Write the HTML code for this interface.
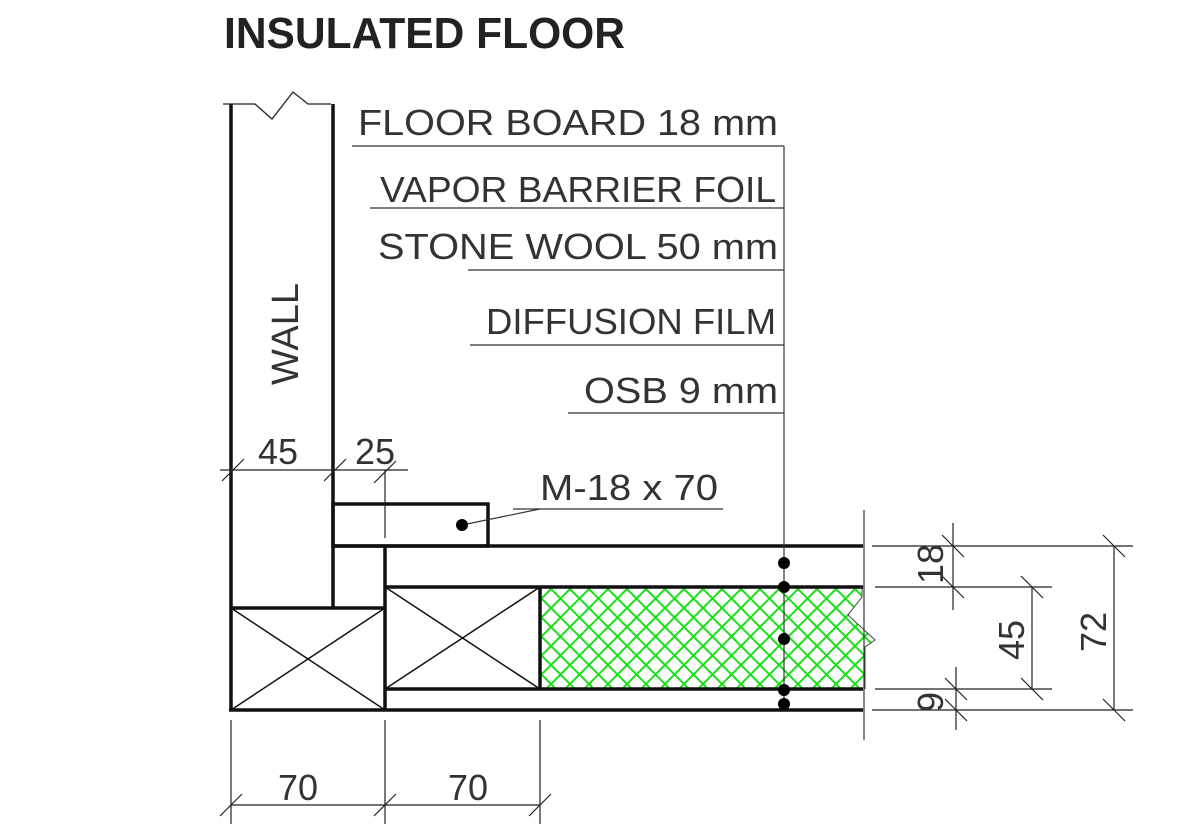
<!DOCTYPE html>
<html><head><style>html,body{margin:0;padding:0;background:#fff;}svg{display:block}</style></head>
<body>
<svg width="1204" height="824" viewBox="0 0 1204 824" xmlns="http://www.w3.org/2000/svg" font-family="Liberation Sans, sans-serif">
<defs>
<pattern id="h" width="19" height="19" patternUnits="userSpaceOnUse">
<path d="M0 0L19 19M19 0L0 19M-2 17L2 21M17 -2L21 2M-2 2L2 -2M17 21L21 17" stroke="#18e018" stroke-width="2"/>
</pattern>
</defs>
<text x="224" y="48" font-size="44" font-weight="bold" fill="#222" textLength="401" lengthAdjust="spacingAndGlyphs">INSULATED FLOOR</text>

<path d="M540 587H862V597L848 615L875 640L865 647V689H540Z" fill="url(#h)"/>
<path d="M862 587V597L848 615L875 640L865 647V689" fill="none" stroke="#444" stroke-width="1"/>

<g stroke="#111" stroke-width="3.5" fill="none">
<line x1="231" y1="104" x2="231" y2="711"/>
<line x1="333" y1="104" x2="333" y2="608"/>
<line x1="231" y1="608" x2="385" y2="608"/>
<line x1="229" y1="710" x2="863" y2="710"/>
<line x1="385" y1="546" x2="385" y2="710"/>
<rect x="333" y="504" width="155" height="42"/>
<line x1="333" y1="546" x2="863" y2="546"/>
<line x1="385" y1="587" x2="863" y2="587"/>
<line x1="385" y1="689" x2="863" y2="689"/>
<line x1="540" y1="587" x2="540" y2="689"/>
</g>
<g stroke="#111" stroke-width="1.5">
<line x1="231" y1="608" x2="385" y2="710"/><line x1="385" y1="608" x2="231" y2="710"/>
<line x1="385" y1="587" x2="540" y2="689"/><line x1="540" y1="587" x2="385" y2="689"/>
</g>
<path d="M223 104H255L272 119L293 92L308 104H331" fill="none" stroke="#222" stroke-width="1.3"/>
<text transform="translate(298,385) rotate(-90)" font-size="38" fill="#333" textLength="102" lengthAdjust="spacingAndGlyphs">WALL</text>

<g font-size="36" fill="#333" text-anchor="end">
<text x="778" y="135" textLength="420" lengthAdjust="spacingAndGlyphs">FLOOR BOARD 18 mm</text>
<text x="776" y="202" textLength="396" lengthAdjust="spacingAndGlyphs">VAPOR BARRIER FOIL</text>
<text x="778" y="259" textLength="400" lengthAdjust="spacingAndGlyphs">STONE WOOL 50 mm</text>
<text x="776" y="334" textLength="290" lengthAdjust="spacingAndGlyphs">DIFFUSION FILM</text>
<text x="778" y="403" textLength="194" lengthAdjust="spacingAndGlyphs">OSB 9 mm</text>
</g>
<g stroke="#333" stroke-width="1.2">
<line x1="352" y1="146" x2="784" y2="146"/>
<line x1="370" y1="208" x2="784" y2="208"/>
<line x1="468" y1="270" x2="784" y2="270"/>
<line x1="470" y1="345" x2="784" y2="345"/>
<line x1="568" y1="413" x2="784" y2="413"/>
<line x1="784" y1="146" x2="784" y2="712"/>
<line x1="864" y1="510" x2="864" y2="740"/>
<line x1="513" y1="509" x2="723" y2="509"/>
<line x1="462" y1="525" x2="540" y2="509"/>
</g>
<g fill="#000">
<circle cx="462" cy="525" r="6"/>
<circle cx="784" cy="563" r="6"/><circle cx="784" cy="587" r="6"/><circle cx="784" cy="639" r="6"/>
<circle cx="784" cy="690" r="6"/><circle cx="784" cy="704" r="6"/>
</g>
<text x="540" y="500" font-size="36" fill="#333" textLength="178" lengthAdjust="spacingAndGlyphs">M-18 x 70</text>

<g stroke="#222" stroke-width="1.2">
<line x1="220" y1="470" x2="408" y2="470"/>
<line x1="385" y1="470" x2="385" y2="538"/>
<line x1="222" y1="481" x2="244" y2="459"/>
<line x1="324" y1="481" x2="346" y2="459"/>
<line x1="374" y1="483" x2="396" y2="461"/>
</g>
<text x="258" y="464" font-size="36" fill="#333">45</text>
<text x="355" y="464" font-size="36" fill="#333">25</text>

<g stroke="#222" stroke-width="1.2">
<line x1="231" y1="720" x2="231" y2="824"/>
<line x1="385" y1="720" x2="385" y2="824"/>
<line x1="540" y1="720" x2="540" y2="824"/>
<line x1="231" y1="805" x2="540" y2="805"/>
<line x1="220" y1="816" x2="242" y2="794"/>
<line x1="374" y1="816" x2="396" y2="794"/>
<line x1="529" y1="816" x2="551" y2="794"/>
</g>
<text x="278" y="800" font-size="36" fill="#333">70</text>
<text x="448" y="800" font-size="36" fill="#333">70</text>

<g stroke="#222" stroke-width="1.2">
<line x1="872" y1="546" x2="1133" y2="546"/>
<line x1="875" y1="587" x2="1052" y2="587"/>
<line x1="875" y1="689" x2="1052" y2="689"/>
<line x1="872" y1="710" x2="1133" y2="710"/>
<line x1="953" y1="523" x2="953" y2="610"/>
<line x1="956" y1="667" x2="956" y2="730"/>
<line x1="1032" y1="587" x2="1032" y2="689"/>
<line x1="1114" y1="546" x2="1114" y2="710"/>
<line x1="942" y1="535" x2="964" y2="557"/>
<line x1="942" y1="576" x2="964" y2="598"/>
<line x1="945" y1="678" x2="967" y2="700"/>
<line x1="945" y1="699" x2="967" y2="721"/>
<line x1="1021" y1="576" x2="1043" y2="598"/>
<line x1="1021" y1="678" x2="1043" y2="700"/>
<line x1="1103" y1="535" x2="1125" y2="557"/>
<line x1="1103" y1="699" x2="1125" y2="721"/>
</g>
<g font-size="36" fill="#333">
<text transform="translate(943,584) rotate(-90)">18</text>
<text transform="translate(943,712) rotate(-90)">9</text>
<text transform="translate(1024,660) rotate(-90)">45</text>
<text transform="translate(1106,652) rotate(-90)">72</text>
</g>
</svg>
</body></html>
